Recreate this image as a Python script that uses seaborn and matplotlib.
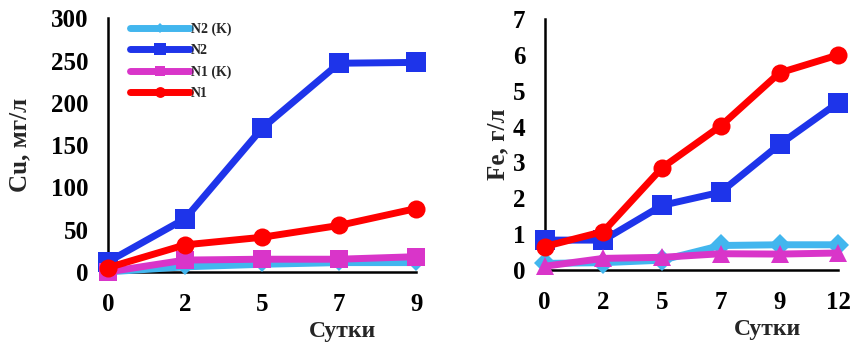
import matplotlib
matplotlib.use("Agg")
import matplotlib.pyplot as plt
import seaborn as sns
import pandas as pd

sns.set_style("white")
plt.rcParams["font.family"] = ["Liberation Serif", "DejaVu Serif"]
plt.rcParams["font.weight"] = "bold"

# Copper leaching, mg/l
cu_days = ["0", "2", "5", "7", "9"]
cu_n2k = [0, 6, 9, 11, 11]
cu_n2 = [12, 63, 170, 247, 248]
cu_n1k = [0, 14, 15, 15, 18]
cu_n1 = [5, 32, 41, 55, 75]

# Iron leaching, g/l
fe_days = ["0", "2", "5", "7", "9", "12"]
fe_n2k = [0.18, 0.2, 0.27, 0.68, 0.7, 0.7]
fe_n2 = [0.83, 0.83, 1.8, 2.17, 3.5, 4.67]
fe_n1k = [0.1, 0.32, 0.35, 0.45, 0.44, 0.47]
fe_n1 = [0.65, 1.07, 2.85, 4.02, 5.5, 6.0]

series_names = ["N2 (K)", "N2", "N1 (K)", "N1"]
colors = {"N2 (K)": "#42b6ee", "N2": "#1e34ea", "N1 (K)": "#d935c9", "N1": "#ff0000"}

fig = plt.figure(figsize=(8.51, 3.42), dpi=100)
ax1 = fig.add_axes([0.127, 0.205, 0.362, 0.741])
ax2 = fig.add_axes([0.640, 0.211, 0.345, 0.733])


def draw(ax, days, values, markers, sizes):
    for name, vals in zip(series_names, values):
        df = pd.DataFrame({"x": range(len(days)), "y": vals})
        sns.lineplot(data=df, x="x", y="y", ax=ax, color=colors[name],
                     linewidth=5, marker=markers[name], markersize=sizes[name],
                     markeredgewidth=0, label=name, clip_on=False)
    ax.set_xlim(0, len(days) - 1)
    ax.set_xticks(range(len(days)))
    ax.set_xticklabels(days)
    for s in ["top", "right"]:
        ax.spines[s].set_visible(False)
    for s in ["left", "bottom"]:
        ax.spines[s].set_color("black")
        ax.spines[s].set_linewidth(1.8)
        ax.spines[s].set_zorder(0)
    ax.tick_params(axis="both", direction="out", length=5, width=1.8,
                   colors="black", labelsize=18)
    ax.tick_params(axis="x", pad=10)
    ax.tick_params(axis="y", pad=9)
    for lab in ax.get_xticklabels() + ax.get_yticklabels():
        lab.set_fontweight("bold")
    ax.set_xlabel("Сутки", fontsize=17, fontweight="bold")
    ax.xaxis.set_label_coords(0.76, -0.195)


draw(ax1, cu_days, [cu_n2k, cu_n2, cu_n1k, cu_n1],
     {"N2 (K)": "D", "N2": "s", "N1 (K)": "s", "N1": "o"},
     {"N2 (K)": 8, "N2": 14, "N1 (K)": 13, "N1": 13})
ax1.set_ylim(0, 300)
ax1.set_yticks(range(0, 301, 50))
ax1.set_ylabel("Cu, мг/л", fontsize=18, fontweight="bold")
ax1.yaxis.set_label_coords(-0.25, 0.5)
leg = ax1.legend(loc="upper left", bbox_to_anchor=(0.03, 1.035), frameon=False,
                 fontsize=10, handlelength=4.3, markerscale=0.6,
                 labelspacing=0.6, handletextpad=0.1)
for t in leg.get_texts():
    t.set_fontweight("bold")

draw(ax2, fe_days, [fe_n2k, fe_n2, fe_n1k, fe_n1],
     {"N2 (K)": "D", "N2": "s", "N1 (K)": "^", "N1": "o"},
     {"N2 (K)": 11, "N2": 14, "N1 (K)": 13, "N1": 13})
ax2.set_ylim(0, 7)
ax2.set_yticks(range(0, 8))
ax2.set_ylabel("Fe, г/л", fontsize=18, fontweight="bold")
ax2.yaxis.set_label_coords(-0.12, 0.5)
ax2.get_legend().remove()

fig.savefig("out.png", dpi=100)
